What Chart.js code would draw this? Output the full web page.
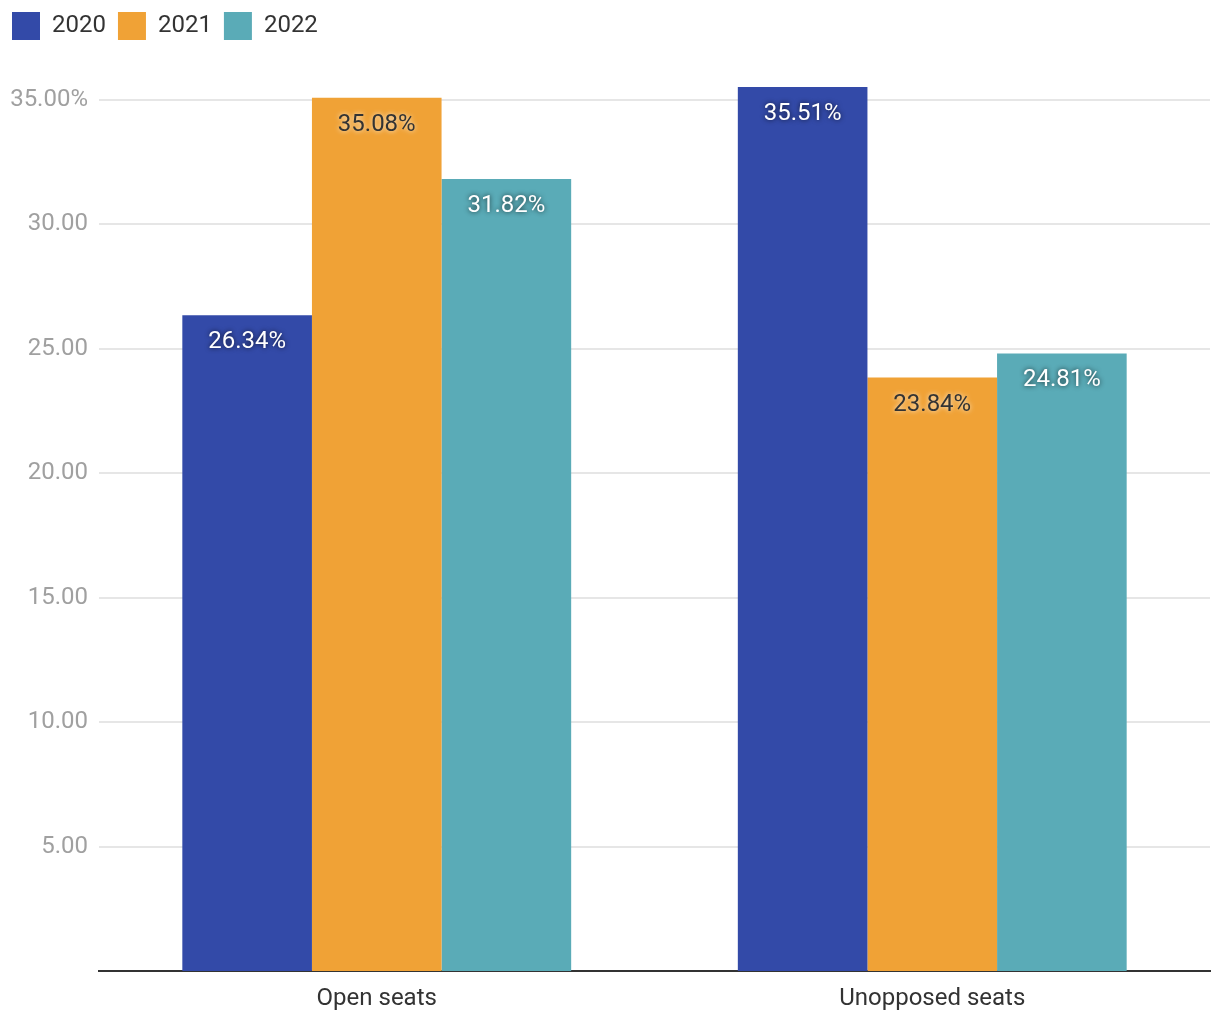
<!DOCTYPE html>
<html>
<head>
<meta charset="utf-8">
<script src="https://cdn.jsdelivr.net/npm/chart.js@4"></script>
<style>
  html, body { margin: 0; padding: 0; background: #fff; }
  #wrap { width: 1220px; height: 1020px; }
</style>
</head>
<body>
<div id="wrap"><canvas id="seatsChart"></canvas></div>
<script>
// Data
const categories = ['Open seats', 'Unopposed seats'];
const years = ['2020', '2021', '2022'];
const values2020 = [26.34, 35.51];
const values2021 = [35.08, 23.84];
const values2022 = [31.82, 24.81];
const yTicks = [5, 10, 15, 20, 25, 30, 35];

const colors = ['#334aa8', '#f0a236', '#5aabb7'];
// orange bars get dark labels, the others white
const labelColors = ['#ffffff', '#333333', '#ffffff'];
const labelShadows = ['rgba(0,0,0,0.75)', 'rgba(255,255,255,0.85)', 'rgba(0,0,0,0.75)'];

const FONT = 'Roboto, "Noto Sans", sans-serif';

// Draw value labels inside the top of each bar
const barLabels = {
    id: 'barLabels',
    afterDatasetsDraw(chart) {
        const ctx = chart.ctx;
        chart.data.datasets.forEach(function(ds, i) {
            const meta = chart.getDatasetMeta(i);
            meta.data.forEach(function(bar, j) {
                ctx.save();
                ctx.font = '24px ' + FONT;
                ctx.textAlign = 'center';
                ctx.textBaseline = 'middle';
                ctx.shadowColor = labelShadows[i];
                ctx.shadowBlur = 5;
                ctx.fillStyle = labelColors[i];
                ctx.fillText(ds.data[j].toFixed(2) + '%', bar.x, bar.y + 27);
                ctx.restore();
            });
        });
    }
};

const ctx = document.getElementById('seatsChart').getContext('2d');
new Chart(ctx, {
    type: 'bar',
    data: {
        labels: categories,
        datasets: [
            { label: years[0], data: values2020, backgroundColor: colors[0] },
            { label: years[1], data: values2021, backgroundColor: colors[1] },
            { label: years[2], data: values2022, backgroundColor: colors[2] }
        ]
    },
    options: {
        responsive: true,
        maintainAspectRatio: false,
        animation: false,
        layout: { padding: { left: 0, right: 10, top: 0, bottom: 0 } },
        datasets: {
            bar: { categoryPercentage: 0.7, barPercentage: 1.0 }
        },
        scales: {
            x: {
                grid: { display: false },
                border: { display: true, color: '#333333', width: 2 },
                afterFit: function(axis) { axis.height = 49; },
                ticks: { color: '#333333', font: { family: FONT, size: 24 }, padding: 6 }
            },
            y: {
                min: 0,
                max: 37,
                border: { display: false },
                grid: { color: '#e6e6e6', lineWidth: 2, drawTicks: false },
                afterBuildTicks: function(axis) {
                    axis.ticks = yTicks.map(function(v) { return { value: v }; });
                },
                afterFit: function(axis) { axis.width = 99; },
                ticks: {
                    color: '#a0a0a0',
                    padding: 11,
                    font: { family: FONT, size: 24 },
                    callback: function(value) {
                        return value === 35 ? value.toFixed(2) + '%' : value.toFixed(2);
                    }
                }
            }
        },
        plugins: {
            legend: {
                position: 'top',
                align: 'start',
                labels: {
                    boxWidth: 28,
                    boxHeight: 28,
                    padding: 12,
                    color: '#333333',
                    font: { family: FONT, size: 24 }
                }
            },
            tooltip: { enabled: false }
        }
    },
    plugins: [barLabels]
});
</script>
</body>
</html>
